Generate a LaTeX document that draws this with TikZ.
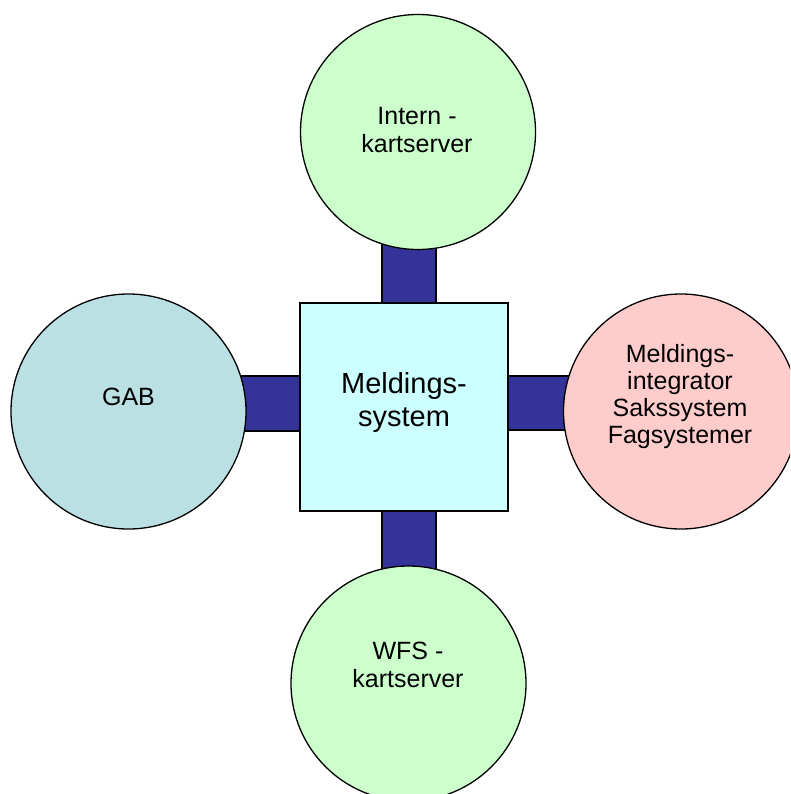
\documentclass[tikz,border=0pt]{standalone}
\usepackage{fontspec}
\setmainfont{Liberation Sans}
\usetikzlibrary{calc,backgrounds}

\definecolor{serverfill}{HTML}{CCFFCC}
\definecolor{gabfill}{HTML}{BBE0E3}
\definecolor{integfill}{HTML}{FFCCCC}
\definecolor{hubfill}{HTML}{CCFFFF}
\definecolor{barfill}{HTML}{333399}

\tikzset{
    station/.style={circle,draw=black,line width=1.3pt,minimum size=235pt,inner sep=0pt},
    hub/.style={rectangle,draw=black,line width=1.3pt,minimum size=208pt,inner sep=0pt,fill=hubfill},
    bar/.style={draw=black,line width=1.3pt,fill=barfill},
    tag/.style={inner sep=0pt,align=center,font=\fontsize{25}{28.5}\selectfont}
}

\begin{document}
\begin{tikzpicture}[x=1pt,y=-1pt]
                \path[use as bounding box,clip] (0,0) rectangle (790,794);
                \node[hub] (hub) at (404,407) {};
                \node[station,fill=serverfill] (intern) at (418,132) {};
                \node[station,fill=gabfill] (gab) at (128.5,411.5) {};
                \node[station,fill=integfill] (integ) at (681,411.5) {};
                \node[station,fill=serverfill] (wfs) at (408.5,683.5) {};
                % bars behind the shapes
                \begin{scope}[on background layer]
                    \draw[bar] ($(hub.north)+(-22,0)$) rectangle ($(intern.center)+(18,0)$);
                    \draw[bar] ($(hub.south)+(-22,0)$) rectangle ($(wfs.center)+(27.5,0)$);
                    \draw[bar] ($(hub.west)+(0,-31)$) rectangle ($(gab.center)+(0,19.5)$);
                    \draw[bar] ($(hub.east)+(0,-31)$) rectangle ($(integ.center)+(0,18.5)$);
                \end{scope}
                % texts
                \node[tag,font=\fontsize{29}{33}\selectfont] (hubtxt) at (404,402) {Meldings-\\system};
                \node[tag] (interntxt) at (417,130) {Intern -\\kartserver};
                \node[tag] (gabtxt) at (128.5,396.5) {GAB};
                \node[tag,font=\fontsize{25}{27}\selectfont] (integtxt) at (680,397) {Meldings-\\integrator\\Sakssystem\\Fagsystemer};
                \node[tag] (wfstxt) at (408,665) {WFS -\\kartserver};
            \end{tikzpicture}
\end{document}
